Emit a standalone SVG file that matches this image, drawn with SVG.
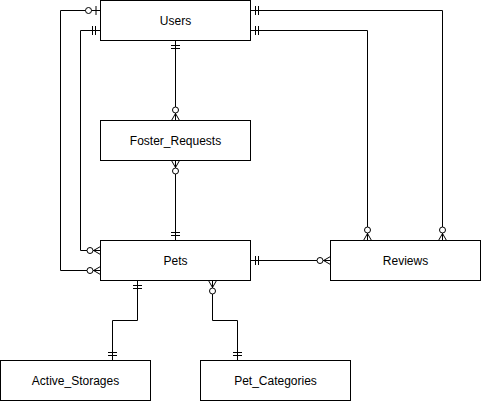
<svg xmlns="http://www.w3.org/2000/svg" width="481" height="401" viewBox="0 0 481 401">
<style>
.box{fill:#fff;stroke:#000;stroke-width:1}
.lbl{font-family:"Liberation Sans",Arial,sans-serif;font-size:12px;fill:#000;text-anchor:middle;dominant-baseline:central}
.edge{fill:none;stroke:#000;stroke-width:1}
</style>
<defs>
<marker id="mandOne" markerUnits="userSpaceOnUse" viewBox="-20 -10 20 20" refX="0" refY="0" markerWidth="20" markerHeight="20" orient="auto-start-reverse" overflow="visible">
<path d="M-5,-4.5V4.5M-8,-4.5V4.5" fill="none" stroke="#000" stroke-width="1"/>
</marker>
<marker id="zeroOne" markerUnits="userSpaceOnUse" viewBox="-20 -10 20 20" refX="0" refY="0" markerWidth="20" markerHeight="20" orient="auto-start-reverse" overflow="visible">
<path d="M-4.5,-4.5V4.5" fill="none" stroke="#000" stroke-width="1"/>
<circle cx="-12" cy="0" r="3" fill="#fff" stroke="#000" stroke-width="1"/>
</marker>
<marker id="zeroMany" markerUnits="userSpaceOnUse" viewBox="-20 -10 20 20" refX="0" refY="0" markerWidth="20" markerHeight="20" orient="auto-start-reverse" overflow="visible">
<path d="M0,-4L-7,0L0,4M-7,0H0" fill="none" stroke="#000" stroke-width="1"/>
<circle cx="-10.5" cy="0" r="3" fill="#fff" stroke="#000" stroke-width="1"/>
</marker>
</defs>
<g id="connectors">
<path class="edge" d="M100.5,10.5H60.5V270.5H100.5" marker-start="url(#zeroOne)" marker-end="url(#zeroMany)"/>
<path class="edge" d="M100.5,30.5H80.5V250.5H100.5" marker-start="url(#mandOne)" marker-end="url(#zeroMany)"/>
<path class="edge" d="M250.5,10.5H442.5V240.5" marker-start="url(#mandOne)" marker-end="url(#zeroMany)"/>
<path class="edge" d="M250.5,30.5H367.5V240.5" marker-start="url(#mandOne)" marker-end="url(#zeroMany)"/>
<path class="edge" d="M175.5,40.5V120.5" marker-start="url(#mandOne)" marker-end="url(#zeroMany)"/>
<path class="edge" d="M175.5,160.5V240.5" marker-start="url(#zeroMany)" marker-end="url(#mandOne)"/>
<path class="edge" d="M250.5,260.5H330.5" marker-start="url(#mandOne)" marker-end="url(#zeroMany)"/>
<path class="edge" d="M137.5,280.5V320.5H112.5V360.5" marker-start="url(#mandOne)" marker-end="url(#mandOne)"/>
<path class="edge" d="M212.5,280.5V320.5H237.5V360.5" marker-start="url(#zeroMany)" marker-end="url(#mandOne)"/>
</g>
<g id="users"><rect class="box" x="100.5" y="0.5" width="150" height="40"/><text class="lbl" x="175.5" y="20.5">Users</text></g>
<g id="foster_requests"><rect class="box" x="100.5" y="120.5" width="150" height="40"/><text class="lbl" x="175.5" y="140.5">Foster_Requests</text></g>
<g id="pets"><rect class="box" x="100.5" y="240.5" width="150" height="40"/><text class="lbl" x="175.5" y="260.5">Pets</text></g>
<g id="reviews"><rect class="box" x="330.5" y="240.5" width="150" height="40"/><text class="lbl" x="405.5" y="260.5">Reviews</text></g>
<g id="active_storages"><rect class="box" x="0.5" y="360.5" width="150" height="40"/><text class="lbl" x="75.5" y="380.5">Active_Storages</text></g>
<g id="pet_categories"><rect class="box" x="200.5" y="360.5" width="150" height="40"/><text class="lbl" x="275.5" y="380.5">Pet_Categories</text></g>
</svg>
